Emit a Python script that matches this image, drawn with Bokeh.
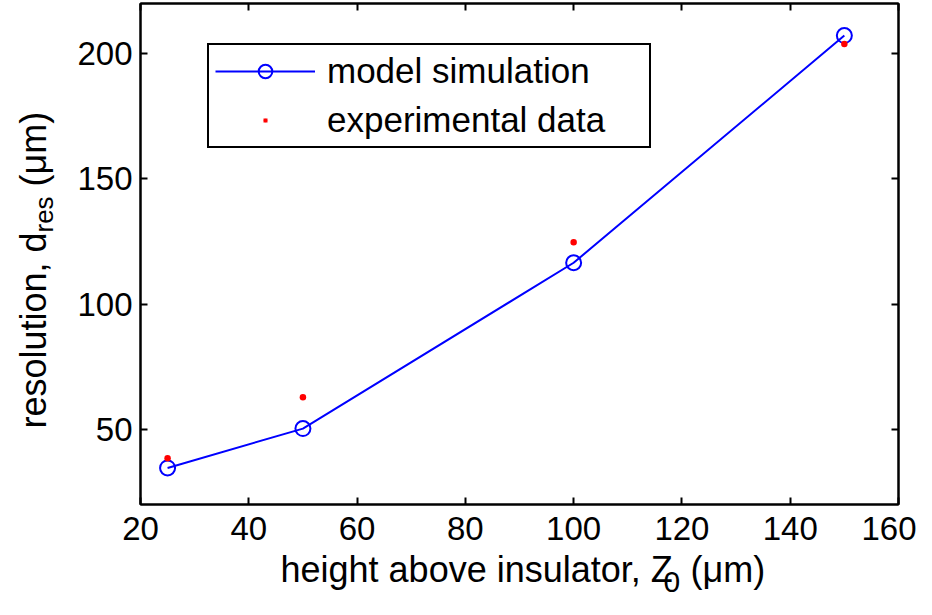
import math
from bokeh.plotting import figure
from bokeh.layouts import row, column
from bokeh.models import Range1d, LinearAxis, Legend, LegendItem, FixedTicker
from bokeh.core.properties import value
from bokeh.embed import file_html
from bokeh.resources import INLINE

# ---- data ----
height_um = [25, 50, 100, 150]
model_res = [34.6, 50.3, 116.5, 207.2]
exp_res = [38.5, 62.8, 124.7, 203.8]
x_ticks = [20, 40, 60, 80, 100, 120, 140, 160]
y_ticks = [50, 100, 150, 200]
series_labels = ["model simulation", "experimental data"]

FONT = "Liberation Sans"
BLUE = "#0000FF"
RED = "#FF0000"

W, H = 916, 599
LEFT_W = 60
MAIN_H = 549
BL = 80   # main plot left border (frame starts at x = LEFT_W + BL = 140)
BR = 18   # main plot right border (frame ends at x = 898)
BB = 45   # main plot bottom border (frame ends at y = 504)

# ---------------- main plot ----------------
p = figure(width=W - LEFT_W, height=MAIN_H, output_backend="svg", toolbar_location=None,
           x_range=Range1d(20, 160), y_range=Range1d(20, 220),
           min_border_left=BL, min_border_right=BR, min_border_top=3,
           min_border_bottom=BB)
p.xgrid.visible = False
p.ygrid.visible = False
p.outline_line_color = "black"
p.outline_line_width = 2
p.background_fill_color = "white"
p.border_fill_color = "white"


def style_axis(ax, ticks, show_labels=True, standoff=10):
    ax.ticker = FixedTicker(ticks=ticks)
    ax.major_tick_in = 7
    ax.major_tick_out = 0
    ax.minor_tick_line_color = None
    ax.axis_line_width = 2
    ax.axis_line_color = "black"
    ax.major_tick_line_width = 2
    ax.major_tick_line_color = "black"
    if show_labels:
        ax.major_label_text_font = FONT
        ax.major_label_text_font_size = "33px"
        ax.major_label_text_color = "black"
        ax.major_label_standoff = standoff
    else:
        ax.major_label_overrides = {t: "" for t in ticks}
        ax.major_label_text_font_size = "1px"
        ax.major_label_standoff = 0


style_axis(p.xaxis[0], x_ticks, standoff=12)
style_axis(p.yaxis[0], y_ticks, standoff=8)

top_ax = LinearAxis()
style_axis(top_ax, x_ticks, show_labels=False)
p.add_layout(top_ax, "above")
right_ax = LinearAxis()
style_axis(right_ax, y_ticks, show_labels=False)
p.add_layout(right_ax, "right")

line_r = p.line(height_um, model_res, line_color=BLUE, line_width=2)
circ_r = p.scatter(height_um, model_res, marker="circle", size=15,
                   fill_color=None, line_color=BLUE, line_width=2)
exp_r = p.scatter(height_um, exp_res, marker="dot", size=26,
                  line_color=RED, fill_color=RED)
# legend-only swatch (draws nothing in the plot): a short red dash in the legend
exp_swatch = p.line(x=[float("nan")], y=[float("nan")], line_color=RED,
                    line_width=4, line_dash="4 200", line_dash_offset=156)

legend = Legend(items=[LegendItem(label=series_labels[0], renderers=[line_r, circ_r]),
                       LegendItem(label=series_labels[1], renderers=[exp_r, exp_swatch])],
                location=(67, 356), margin=0, padding=6, spacing=9,
                glyph_width=100, glyph_height=34, label_height=40,
                label_width=316, label_standoff=12,
                label_text_font=FONT, label_text_font_size="35px",
                label_text_color="black",
                border_line_color="black", border_line_width=2,
                border_line_alpha=1.0,
                background_fill_color="white", background_fill_alpha=1.0)
p.add_layout(legend)


def text_panel(width, height, x_range, y_range, **borders):
    f = figure(width=width, height=height, output_backend="svg", toolbar_location=None,
               x_range=x_range, y_range=y_range,
               x_axis_type=None, y_axis_type=None, **borders)
    f.xgrid.visible = False
    f.ygrid.visible = False
    f.outline_line_color = None
    f.background_fill_color = "white"
    f.border_fill_color = "white"
    return f


def put(f, txt, x, y, size_px, angle=0.0):
    f.text(x=[x], y=[y], text=[txt], angle=angle,
           text_font=value(FONT), text_font_size=value(f"{size_px}px"),
           text_align="left", text_baseline="alphabetic", text_color="black")


# ---------------- y-axis title panel (data x = page x, data y = H - page y) ----------------
ly = text_panel(LEFT_W, H, Range1d(0, LEFT_W), Range1d(0, H), min_border=0)
put(ly, "resolution, d", 33.4, 171, 36, math.pi / 2)
put(ly, "res", 43.9, 367, 26, math.pi / 2)
put(ly, "(\u03bcm)", 33.4, 413, 36, math.pi / 2)

# ---------------- x-axis title panel (data x = page x, data y = H - page y) ----------------
lx = text_panel(W - LEFT_W, H - MAIN_H, Range1d(LEFT_W + BL, W - BR), Range1d(0, H - MAIN_H),
                min_border_left=BL, min_border_right=BR, min_border_top=0,
                min_border_bottom=0)
put(lx, "height above insulator, Z", 280, 29.6, 36)
put(lx, "0", 663, 17.5, 30)
put(lx, "(\u03bcm)", 690, 29.6, 36)

layout = row(ly, column(p, lx))
open("out.html", "w").write(file_html(layout, INLINE))
